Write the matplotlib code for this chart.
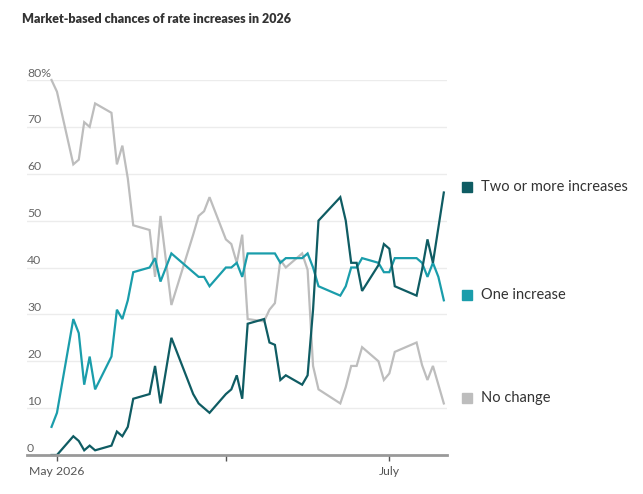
import pandas as pd
import matplotlib
matplotlib.use('Agg')
import matplotlib.pyplot as plt
import matplotlib.transforms as mtransforms

plt.rcParams['font.family'] = ['Lato', 'DejaVu Sans']

# values (percent chance)
dates = ['2026-04-30', '2026-05-01', '2026-05-04', '2026-05-05', '2026-05-06', '2026-05-07',
         '2026-05-08', '2026-05-11', '2026-05-12', '2026-05-13', '2026-05-14', '2026-05-15',
         '2026-05-18', '2026-05-19', '2026-05-20', '2026-05-21', '2026-05-22', '2026-05-26',
         '2026-05-27', '2026-05-28', '2026-05-29', '2026-06-01', '2026-06-02', '2026-06-03',
         '2026-06-04', '2026-06-05', '2026-06-08', '2026-06-09', '2026-06-10', '2026-06-11',
         '2026-06-12', '2026-06-15', '2026-06-16', '2026-06-17', '2026-06-18', '2026-06-22',
         '2026-06-23', '2026-06-24', '2026-06-25', '2026-06-26', '2026-06-29', '2026-06-30',
         '2026-07-01', '2026-07-02', '2026-07-06', '2026-07-07', '2026-07-08', '2026-07-09',
         '2026-07-10', '2026-07-11']
two_or_more = [0, 0, 4, 3, 1, 2, 1, 2, 5, 4, 6, 12, 13, 19, 11, 18, 25, 13, 11, 10, 9,
               13, 14, 17, 12, 28, 29, 24, 23.5, 16, 17, 15, 17, 31, 50, 55, 50, 41, 41,
               35, 40.5, 45, 44, 36, 34, 39.5, 46, 41, 48.5, 56]
one_increase = [6, 9, 29, 26, 15, 21, 14, 21, 31, 29, 33, 39, 40, 42, 37, 40, 43, 39, 38,
                38, 36, 40, 40, 41, 38, 43, 43, 43, 43, 41, 42, 42, 43, 40, 36, 34, 36, 40,
                40, 42, 41, 39, 39, 42, 42, 41, 38, 41, 38, 33]
no_change = [80, 77.5, 62, 63, 71, 70, 75, 73, 62, 66, 59, 49, 48, 38, 51, 41.5, 32, 47,
             51, 52, 55, 46, 45, 41, 47, 29, 28.5, 31, 32.4, 41.6, 40, 43, 39.5, 19, 14,
             11, 14.5, 19, 19, 23, 20, 16, 17.4, 22, 24, 19.2, 16, 19, 15, 11]

labels = ['Two or more increases', 'One increase', 'No change']
colors = ['#0f5c63', '#1a9dab', '#bdbdbd']
series = [two_or_more, one_increase, no_change]

x = pd.to_datetime(dates)

fig = plt.figure(figsize=(6.43, 4.94), dpi=100)
ax = fig.add_axes([27/643, 39/494, 420/643, 375/494])

for yv in range(10, 90, 10):
    ax.axhline(yv, color='#ececec', lw=1, zorder=0)

# grey first so the teal lines sit on top
for vals, col in zip(series[::-1], colors[::-1]):
    ax.plot(x, vals, color=col, lw=1.6, clip_on=False, solid_joinstyle='miter')

ax.set_ylim(0, 80)
ax.set_xlim(pd.Timestamp('2026-04-25 12:00'), pd.Timestamp('2026-07-11 14:00'))

for s in ['top', 'right', 'left']:
    ax.spines[s].set_visible(False)
ax.spines['bottom'].set_color('#999999')
ax.spines['bottom'].set_linewidth(2)

ax.set_yticks([])
ticks = pd.to_datetime(['2026-05-01', '2026-06-01', '2026-07-01'])
ax.set_xticks(ticks)
ax.set_xticklabels(['May 2026', '', 'July'])
ax.tick_params(axis='x', length=4, width=1, color='#555555', labelcolor='#555555',
               labelsize=8.8, pad=4)

for yv in range(0, 90, 10):
    lab = '80%' if yv == 80 else str(yv)
    ax.text(0, yv + 0.3, lab, transform=ax.get_yaxis_transform(), ha='left', va='bottom',
            fontsize=8.8, color='#666666')

# labels at the right, stacked near the last values
trans = mtransforms.blended_transform_factory(ax.transAxes, ax.transData)
for vals, lab, col in zip(series, labels, colors):
    ypos = vals[-1] + 1.2
    ax.plot([1.048], [ypos], marker='s', ms=7, color=col, transform=trans, clip_on=False)
    ax.text(1.081, ypos, lab, transform=trans, va='center', ha='left', fontsize=10.5,
            color='#333333')

fig.text(22/643, 1 - 23/494, 'Market-based chances of rate increases in 2026',
         fontsize=9.0, fontweight='heavy', color='#333333', va='baseline')

fig.savefig('out.png', dpi=100)
